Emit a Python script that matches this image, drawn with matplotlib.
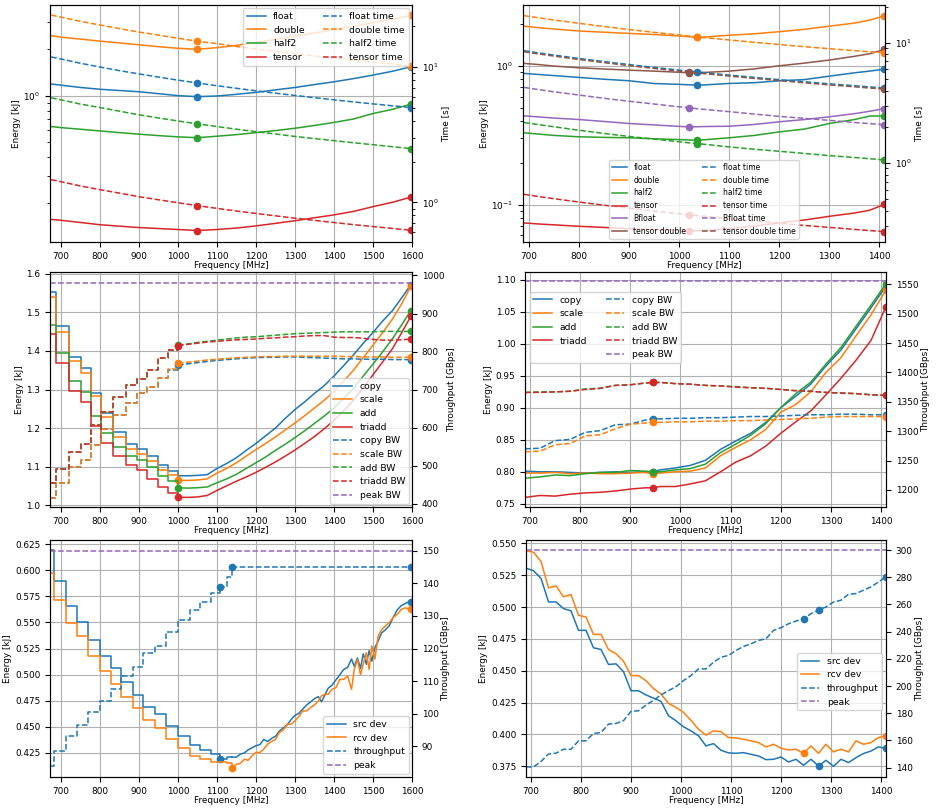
import matplotlib
matplotlib.use('Agg')
import matplotlib.pyplot as plt
from matplotlib.lines import Line2D
from matplotlib.ticker import MultipleLocator

plt.rcParams['font.family'] = ['DejaVu Sans']
plt.rcParams['font.size'] = 6.4
plt.rcParams['lines.linewidth'] = 1.1
plt.rcParams['lines.markersize'] = 4.5
plt.rcParams['legend.fontsize'] = 6.7
plt.rcParams['axes.labelpad'] = 2.0

# ---------------- top-left: energy & time (log) ----------------
TL_FREQ = [675, 700, 750, 800, 850, 900, 950, 1000, 1050, 1100, 1150, 1200,
           1250, 1300, 1350, 1400, 1450, 1500, 1550, 1597]
TL_FLOAT_E = [1.19, 1.17, 1.13, 1.10, 1.08, 1.06, 1.03, 1.00, 0.985, 0.995, 1.02, 1.05,
              1.09, 1.13, 1.18, 1.23, 1.29, 1.36, 1.44, 1.54]
TL_DOUBLE_E = [2.45, 2.40, 2.33, 2.26, 2.20, 2.14, 2.08, 2.03, 2.00, 2.05, 2.12, 2.22,
               2.32, 2.43, 2.55, 2.68, 2.82, 2.98, 3.14, 3.32]
TL_HALF2_E = [0.63, 0.62, 0.605, 0.59, 0.575, 0.562, 0.550, 0.540, 0.533, 0.545, 0.558, 0.575,
              0.593, 0.614, 0.640, 0.670, 0.705, 0.765, 0.815, 0.88]
TL_TENSOR_E = [0.157, 0.155, 0.150, 0.145, 0.142, 0.139, 0.137, 0.135, 0.133, 0.135, 0.138, 0.1425,
               0.148, 0.154, 0.161, 0.168, 0.177, 0.190, 0.203, 0.219]
TL_FLOAT_T = [11.8, 11.4, 10.6, 9.95, 9.35, 8.85, 8.38, 7.96, 7.58, 7.24, 6.93, 6.64,
              6.38, 6.14, 5.91, 5.70, 5.50, 5.32, 5.15, 5.00]
TL_DOUBLE_T = [24.0, 23.2, 21.6, 20.3, 19.1, 18.0, 17.1, 16.2, 15.4, 14.8, 14.1, 13.5,
               13.0, 12.5, 12.0, 11.6, 11.2, 10.8, 10.5, 10.1]
TL_HALF2_T = [5.90, 5.70, 5.30, 5.00, 4.70, 4.42, 4.19, 3.98, 3.79, 3.62, 3.46, 3.32,
              3.19, 3.06, 2.95, 2.85, 2.75, 2.66, 2.57, 2.49]
TL_TENSOR_T = [1.47, 1.42, 1.32, 1.24, 1.17, 1.10, 1.045, 0.993, 0.945, 0.903, 0.863, 0.828,
               0.795, 0.764, 0.736, 0.710, 0.685, 0.663, 0.642, 0.622]
TL_MARK = [1050, 1597]

# ---------------- top-right ----------------
TR_FREQ = [690, 720, 750, 800, 850, 900, 950, 1000, 1020, 1035, 1050, 1100, 1150,
           1200, 1250, 1300, 1350, 1380, 1410]
TR_FLOAT_E = [0.881, 0.865, 0.850, 0.824, 0.800, 0.780, 0.745, 0.735, 0.729, 0.726, 0.728, 0.746, 0.755,
              0.780, 0.795, 0.842, 0.890, 0.915, 0.946]
TR_DOUBLE_E = [1.93, 1.88, 1.84, 1.78, 1.745, 1.71, 1.68, 1.64, 1.62, 1.60, 1.61, 1.66, 1.70,
               1.76, 1.83, 1.93, 2.03, 2.13, 2.29]
TR_HALF2_E = [0.329, 0.322, 0.315, 0.308, 0.305, 0.303, 0.298, 0.294, 0.292, 0.291, 0.293, 0.303, 0.315,
              0.334, 0.350, 0.384, 0.410, 0.434, 0.436]
TR_TENSOR_E = [0.0738, 0.0725, 0.0715, 0.0698, 0.0685, 0.0671, 0.0660, 0.0652, 0.0646, 0.0648, 0.0650,
               0.0671, 0.0700, 0.0738, 0.0775, 0.0824, 0.0870, 0.0910, 0.1005]
TR_BFLOAT_E = [0.436, 0.428, 0.420, 0.410, 0.397, 0.384, 0.375, 0.366, 0.363, 0.364, 0.365, 0.367, 0.378,
               0.395, 0.410, 0.429, 0.452, 0.470, 0.492]
TR_TDOUBLE_E = [1.04, 1.02, 0.995, 0.967, 0.948, 0.930, 0.915, 0.898, 0.890, 0.892, 0.895, 0.915, 0.950,
                1.00, 1.045, 1.10, 1.17, 1.22, 1.31]
TR_FLOAT_T = [8.58, 8.22, 7.89, 7.40, 6.97, 6.58, 6.23, 5.92, 5.80, 5.72, 5.64, 5.38, 5.15,
              4.93, 4.74, 4.55, 4.39, 4.29, 4.20]
TR_DOUBLE_T = [16.8, 16.1, 15.45, 14.5, 13.64, 12.88, 12.2, 11.59, 11.36, 11.2, 11.04, 10.54, 10.08,
               9.66, 9.27, 8.92, 8.59, 8.40, 8.28]
TR_HALF2_T = [2.17, 2.08, 2.00, 1.87, 1.76, 1.66, 1.58, 1.50, 1.47, 1.45, 1.43, 1.36, 1.30,
              1.25, 1.20, 1.15, 1.11, 1.085, 1.06]
TR_TENSOR_T = [0.548, 0.525, 0.504, 0.473, 0.445, 0.420, 0.398, 0.378, 0.371, 0.365, 0.360, 0.344, 0.329,
               0.315, 0.302, 0.291, 0.280, 0.274, 0.268]
TR_BFLOAT_T = [4.25, 4.07, 3.91, 3.67, 3.45, 3.26, 3.09, 2.93, 2.875, 2.83, 2.79, 2.67, 2.55,
               2.44, 2.35, 2.26, 2.17, 2.125, 2.08]
TR_TDOUBLE_T = [8.41, 8.06, 7.74, 7.25, 6.83, 6.45, 6.11, 5.80, 5.69, 5.61, 5.53, 5.28, 5.05,
                4.84, 4.64, 4.46, 4.30, 4.20, 4.12]
TR_MARK_A = [1035, 1410]
TR_MARK_B = [1020, 1410]

# ---------------- middle-left: STREAM ----------------
ML_FREQ = [672, 688, 720, 752, 776, 804, 834, 866, 895, 920, 950, 975,
           1000, 1025, 1050, 1075, 1100, 1125, 1150, 1175, 1200, 1225, 1250, 1275,
           1300, 1325, 1350, 1375, 1400, 1425, 1450, 1475, 1500, 1525, 1550, 1575, 1597]
ML_COPY_E = [1.554, 1.464, 1.385, 1.355, 1.292, 1.238, 1.190, 1.158, 1.145, 1.127, 1.103, 1.088,
             1.076, 1.076, 1.077, 1.079, 1.095, 1.108, 1.123, 1.142, 1.160, 1.180, 1.200, 1.225,
             1.248, 1.268, 1.290, 1.310, 1.335, 1.362, 1.390, 1.420, 1.448, 1.478, 1.505, 1.540, 1.572]
ML_SCALE_E = [1.540, 1.449, 1.374, 1.344, 1.282, 1.229, 1.178, 1.145, 1.132, 1.114, 1.090, 1.077,
              1.064, 1.064, 1.065, 1.068, 1.083, 1.095, 1.110, 1.127, 1.144, 1.160, 1.177, 1.195,
              1.213, 1.232, 1.252, 1.272, 1.295, 1.322, 1.350, 1.383, 1.415, 1.448, 1.483, 1.525, 1.568]
ML_ADD_E = [1.468, 1.396, 1.322, 1.293, 1.232, 1.188, 1.152, 1.128, 1.118, 1.100, 1.075, 1.062,
            1.045, 1.044, 1.045, 1.047, 1.058, 1.068, 1.080, 1.095, 1.110, 1.125, 1.142, 1.158,
            1.175, 1.193, 1.212, 1.231, 1.252, 1.277, 1.303, 1.335, 1.366, 1.398, 1.432, 1.470, 1.505]
ML_TRIADD_E = [1.444, 1.369, 1.297, 1.267, 1.205, 1.162, 1.128, 1.103, 1.090, 1.068, 1.047, 1.032,
               1.020, 1.020, 1.021, 1.025, 1.038, 1.050, 1.062, 1.073, 1.085, 1.098, 1.112, 1.127,
               1.143, 1.160, 1.178, 1.198, 1.220, 1.245, 1.272, 1.305, 1.338, 1.372, 1.406, 1.450, 1.490]
ML_COPY_BW = [416, 456, 497, 516, 556, 596, 634, 664, 690, 706, 730, 752,
              764, 768, 771, 774, 777, 779, 781, 783, 784, 785, 785, 786,
              786, 785, 784, 783, 782, 781, 781, 780, 780, 780, 779, 779, 779]
ML_SCALE_BW = [416, 456, 497, 516, 556, 596, 634, 664, 690, 706, 732, 755,
               769, 772, 775, 778, 780, 782, 784, 785, 786, 787, 787, 788,
               788, 788, 788, 788, 788, 787, 787, 786, 786, 786, 785, 785, 785]
ML_ADD_BW = [456, 492, 536, 558, 606, 642, 682, 712, 729, 752, 783, 804,
             817, 820, 824, 827, 830, 833, 836, 838, 839, 841, 843, 845,
             847, 848, 849, 850, 851, 852, 852, 852, 852, 853, 853, 853, 853]
ML_TRIADD_BW = [456, 492, 536, 558, 606, 642, 682, 712, 729, 752, 783, 804,
                816, 819, 822, 825, 827, 829, 831, 832, 833, 835, 836, 838,
                839, 841, 842, 842, 838, 837, 837, 835, 832, 830, 830, 831, 833]
ML_PEAK_BW = 981
ML_MARK = [1000, 1597]
ML_STEP_END = 1000

# ---------------- middle-right: STREAM ----------------
MR_FREQ = [690, 720, 750, 780, 810, 840, 870, 900, 930, 945, 960, 990, 1020, 1050,
           1080, 1110, 1140, 1170, 1200, 1230, 1260, 1290, 1320, 1350, 1380, 1410]
MR_COPY_E = [0.801, 0.800, 0.800, 0.799, 0.798, 0.799, 0.800, 0.799, 0.800, 0.800, 0.803, 0.806, 0.810,
             0.818, 0.835, 0.848, 0.860, 0.877, 0.900, 0.918, 0.937, 0.965, 0.990, 1.023, 1.056, 1.090]
MR_SCALE_E = [0.798, 0.798, 0.799, 0.797, 0.798, 0.797, 0.797, 0.798, 0.799, 0.796, 0.798, 0.800, 0.801,
              0.806, 0.825, 0.838, 0.850, 0.866, 0.893, 0.905, 0.925, 0.955, 0.978, 1.012, 1.045, 1.084]
MR_ADD_E = [0.790, 0.792, 0.795, 0.794, 0.797, 0.799, 0.799, 0.802, 0.801, 0.800, 0.800, 0.803, 0.805,
            0.812, 0.830, 0.843, 0.857, 0.875, 0.900, 0.922, 0.940, 0.968, 0.994, 1.027, 1.060, 1.094]
MR_TRIADD_E = [0.760, 0.763, 0.762, 0.765, 0.767, 0.768, 0.770, 0.773, 0.775, 0.775, 0.777, 0.777, 0.781,
               0.786, 0.800, 0.815, 0.825, 0.840, 0.860, 0.878, 0.895, 0.920, 0.946, 0.974, 1.005, 1.058]
MR_COPY_BW = [1270, 1271, 1284, 1286, 1298, 1301, 1311, 1312, 1319, 1321, 1321, 1322, 1322,
              1323, 1323, 1324, 1325, 1325, 1326, 1327, 1328, 1328, 1329, 1329, 1328, 1328]
MR_SCALE_BW = [1265, 1266, 1277, 1279, 1292, 1294, 1304, 1312, 1314, 1315, 1315, 1316, 1316,
               1317, 1317, 1318, 1318, 1319, 1320, 1321, 1322, 1324, 1325, 1325, 1325, 1325]
MR_ADD_BW = [1366, 1367, 1367, 1368, 1372, 1373, 1378, 1379, 1382, 1383, 1383, 1381, 1380,
             1378, 1377, 1376, 1374, 1373, 1371, 1369, 1368, 1366, 1365, 1364, 1362, 1361]
MR_TRIADD_BW = [1366, 1366, 1367, 1368, 1371, 1373, 1378, 1379, 1382, 1383, 1383, 1381, 1380,
                1378, 1377, 1375, 1374, 1373, 1371, 1369, 1368, 1366, 1365, 1364, 1362, 1361]
MR_PEAK_BW = 1555
MR_MARK = [945, 1410]

# ---------------- bottom-left: transfer ----------------
BL_FREQ = [672, 682, 712, 740, 770, 800, 828, 854, 884, 910, 940, 970, 1000, 1030, 1056, 1084,
           1108, 1125, 1138,
           1150, 1160, 1170, 1180, 1190, 1200, 1210, 1220, 1230, 1240, 1250, 1260, 1270, 1280,
           1290, 1300, 1310, 1320, 1330, 1340, 1350, 1360,
           1368, 1376, 1385, 1395, 1405, 1415, 1425, 1435, 1445, 1452, 1460, 1468, 1475, 1483,
           1490, 1497, 1505, 1513, 1522, 1532, 1542, 1552, 1562, 1572, 1582, 1592, 1597]
BL_SRC_E = [0.619, 0.5895, 0.5656, 0.5506, 0.533, 0.518, 0.506, 0.493, 0.481, 0.469, 0.462, 0.451,
            0.441, 0.433, 0.428, 0.424, 0.4197, 0.4215, 0.421,
            0.421, 0.424, 0.425, 0.428, 0.430, 0.432, 0.433, 0.438, 0.436, 0.439, 0.441, 0.446,
            0.449, 0.452, 0.457, 0.461, 0.463, 0.467, 0.471, 0.474, 0.477, 0.479,
            0.474, 0.480, 0.487, 0.490, 0.495, 0.500, 0.505, 0.507, 0.515, 0.508, 0.516, 0.506,
            0.520, 0.510, 0.523, 0.513, 0.526, 0.532, 0.540, 0.543, 0.547, 0.555, 0.562, 0.566,
            0.568, 0.570, 0.570]
BL_RCV_E = [0.597, 0.5713, 0.5497, 0.537, 0.518, 0.5035, 0.491, 0.479, 0.4685, 0.457, 0.449, 0.438,
            0.430, 0.4222, 0.419, 0.4166, 0.4160, 0.4150, 0.4105,
            0.4143, 0.4150, 0.419, 0.418, 0.4223, 0.4255, 0.4255, 0.4287, 0.4334, 0.436, 0.438,
            0.4446, 0.447, 0.4525, 0.4525, 0.4557, 0.460, 0.4653, 0.4653, 0.4685, 0.471, 0.4748,
            0.4796, 0.4812, 0.4812, 0.486, 0.4876, 0.4955, 0.4955, 0.4987, 0.486, 0.505, 0.5146,
            0.500, 0.510, 0.521, 0.505, 0.5274, 0.515, 0.537, 0.543, 0.5465, 0.550, 0.555, 0.5576,
            0.5624, 0.564, 0.563, 0.563]
BL_STEP_END = 1138
BL_THR_FREQ = [672, 682, 712, 740, 770, 800, 828, 854, 884, 910, 940, 970, 1000, 1030, 1056, 1084,
               1108, 1125, 1138, 1597]
BL_THR = [83.9, 88.6, 93.1, 96.5, 100.6, 104.0, 107.7, 111.5, 114.4, 118.5, 120.7, 125.1,
          128.7, 131.8, 134.3, 136.9, 138.9, 142.0, 144.9, 144.9]
BL_PEAK = 150
BL_SRC_MARK = [1108, 1597]
BL_RCV_MARK = [1138, 1597]
BL_THR_MARK = [1108, 1138, 1597]

# ---------------- bottom-right: transfer ----------------
BR_FREQ = [690, 705, 720, 735, 750, 765, 780, 795, 810, 825, 840, 855, 870, 885, 900, 915,
           930, 945, 960, 975, 990, 1005, 1020, 1035, 1050, 1065, 1080, 1095, 1110, 1125, 1140,
           1155, 1170, 1185, 1200, 1215, 1230, 1245, 1260, 1275, 1290, 1305, 1320, 1335, 1350,
           1365, 1380, 1395, 1410]
BR_SRC_E = [0.5305, 0.5285, 0.5225, 0.5040, 0.5040, 0.4988, 0.4970, 0.4817, 0.4817, 0.4680,
            0.4667, 0.4549, 0.4554, 0.4493, 0.4343, 0.4343, 0.4310, 0.4285, 0.4260, 0.4147,
            0.4107, 0.4060, 0.4028, 0.3989, 0.3910, 0.3928, 0.3876, 0.3855, 0.3852, 0.3857,
            0.3844, 0.3831, 0.3802, 0.3805, 0.3823, 0.3784, 0.3805, 0.3758, 0.3805, 0.3752,
            0.3797, 0.3750, 0.3805, 0.3779, 0.3818, 0.3850, 0.3870, 0.3902, 0.3890]
BR_RCV_E = [0.5442, 0.5430, 0.5358, 0.5150, 0.5166, 0.5080, 0.5098, 0.4935, 0.4922, 0.4785,
            0.4785, 0.4667, 0.4633, 0.4575, 0.4462, 0.4462, 0.4422, 0.4360, 0.4317, 0.4244,
            0.4212, 0.4173, 0.4110, 0.4041, 0.3994, 0.4028, 0.4022, 0.3976, 0.3972, 0.3962,
            0.3950, 0.3936, 0.3902, 0.3923, 0.3892, 0.3878, 0.3884, 0.3852, 0.3910, 0.3852,
            0.3923, 0.3863, 0.3884, 0.3863, 0.3950, 0.3923, 0.3936, 0.3976, 0.3989]
BR_THR = [140.5, 140.5, 144.5, 150.0, 150.6, 153.5, 153.5, 159.7, 159.7, 165.1, 165.8, 172.0,
          172.5, 174.5, 181.4, 181.8, 186.0, 189.5, 193.5, 196.6, 199.6, 204.0, 207.7, 212.6,
          212.6, 217.5, 221.2, 222.5, 226.2, 229.1, 231.1, 233.5, 234.8, 240.9, 242.9, 245.8,
          247.8, 249.5, 253.2, 255.7, 258.2, 261.8, 263.1, 267.5, 268.0, 270.5, 272.9, 276.6, 280.3]
BR_PEAK = 300
BR_SRC_MARK = [1275, 1410]
BR_RCV_MARK = [1245, 1410]
BR_THR_MARK = [1245, 1275, 1410]

# ============================================================
W, H = 936, 808
fig = plt.figure(figsize=(W / 100, H / 100), dpi=100)


def add_ax(x0, y0, x1, y1):
    return fig.add_axes([x0 / W, 1 - y1 / H, (x1 - x0) / W, (y1 - y0) / H])


def mark(ax, xs, ys, at, color):
    px = [xs[xs.index(f)] for f in at]
    py = [ys[xs.index(f)] for f in at]
    ax.plot(px, py, 'o', color=color)


def stair_then_line(ax, xs, ys, split, ls='-', **kw):
    i = xs.index(split)
    h, = ax.plot(xs[:i + 1], ys[:i + 1], ls, drawstyle='steps-post', **kw)
    kw.pop('label', None)
    ax.plot(xs[i:], ys[i:], ls, **kw)
    return h


def finish(ax, ax2, rlabel):
    ax.grid(True)
    ax.xaxis.set_major_locator(MultipleLocator(100))
    ax.set_xlabel('Frequency [MHz]', labelpad=0.5)
    ax.set_ylabel('Energy [kJ]')
    ax2.set_ylabel(rlabel)


# ---------- top-left ----------
ax = add_ax(50, 5, 412, 242)
ax2 = ax.twinx()
ax.set_yscale('log')
ax2.set_yscale('log')
hs = []
for c, name, e in [('C0', 'float', TL_FLOAT_E), ('C1', 'double', TL_DOUBLE_E),
                   ('C2', 'half2', TL_HALF2_E), ('C3', 'tensor', TL_TENSOR_E)]:
    h, = ax.plot(TL_FREQ, e, color=c, label=name)
    mark(ax, TL_FREQ, e, TL_MARK, c)
    hs.append(h)
ht = []
for c, name, t in [('C0', 'float time', TL_FLOAT_T), ('C1', 'double time', TL_DOUBLE_T),
                   ('C2', 'half2 time', TL_HALF2_T), ('C3', 'tensor time', TL_TENSOR_T)]:
    h, = ax2.plot(TL_FREQ, t, '--', color=c, label=name)
    mark(ax2, TL_FREQ, t, TL_MARK, c)
    ht.append(h)
ax.set_xlim(672, 1600)
ax.set_ylim(0.112, 3.88)
ax2.set_ylim(0.51, 28.5)
finish(ax, ax2, 'Time [s]')
ax2.legend(hs + ht, [h.get_label() for h in hs + ht], ncol=2, loc='upper right',
           borderaxespad=0.35)

# ---------- top-right ----------
ax = add_ax(523, 5, 885, 242)
ax2 = ax.twinx()
ax.set_yscale('log')
ax2.set_yscale('log')
hs, ht = [], []
for c, name, e, t, mk in [('C0', 'float', TR_FLOAT_E, TR_FLOAT_T, TR_MARK_A),
                          ('C1', 'double', TR_DOUBLE_E, TR_DOUBLE_T, TR_MARK_A),
                          ('C2', 'half2', TR_HALF2_E, TR_HALF2_T, TR_MARK_A),
                          ('C3', 'tensor', TR_TENSOR_E, TR_TENSOR_T, TR_MARK_B),
                          ('C4', 'Bfloat', TR_BFLOAT_E, TR_BFLOAT_T, TR_MARK_B),
                          ('C5', 'tensor double', TR_TDOUBLE_E, TR_TDOUBLE_T, TR_MARK_B)]:
    h, = ax.plot(TR_FREQ, e, color=c, label=name)
    mark(ax, TR_FREQ, e, mk, c)
    hs.append(h)
    h2, = ax2.plot(TR_FREQ, t, '--', color=c, label=name + ' time')
    mark(ax2, TR_FREQ, t, mk, c)
    ht.append(h2)
ax.set_xlim(688, 1411)
ax.set_ylim(0.0538, 2.74)
ax2.set_ylim(0.22, 20.6)
finish(ax, ax2, 'Time [s]')
ax2.legend(hs + ht, [h.get_label() for h in hs + ht], ncol=2, loc='lower center',
           fontsize=5.5, borderaxespad=0.4)

# ---------- middle-left ----------
ax = add_ax(50, 272, 412, 507)
ax2 = ax.twinx()
hs, hb = [], []
for c, name, e, emk in [('C0', 'copy', ML_COPY_E, [1597]),
                        ('C1', 'scale', ML_SCALE_E, ML_MARK),
                        ('C2', 'add', ML_ADD_E, ML_MARK),
                        ('C3', 'triadd', ML_TRIADD_E, ML_MARK)]:
    h = stair_then_line(ax, ML_FREQ, e, ML_STEP_END, color=c, label=name)
    mark(ax, ML_FREQ, e, emk, c)
    hs.append(h)
for c, name, b in [('C0', 'copy BW', ML_COPY_BW), ('C1', 'scale BW', ML_SCALE_BW),
                   ('C2', 'add BW', ML_ADD_BW), ('C3', 'triadd BW', ML_TRIADD_BW)]:
    h = stair_then_line(ax2, ML_FREQ, b, ML_STEP_END, ls='--', color=c, label=name)
    mark(ax2, ML_FREQ, b, ML_MARK, c)
    hb.append(h)
hp = ax2.axhline(ML_PEAK_BW, color='C4', ls='--', label='peak BW')
ax.set_xlim(672, 1600)
ax.set_ylim(0.995, 1.605)
ax2.set_ylim(392, 1009)
ax.yaxis.set_major_locator(MultipleLocator(0.1))
ax2.yaxis.set_major_locator(MultipleLocator(100))
finish(ax, ax2, 'Throughput [GBps]')
allh = hs + hb + [hp]
ax2.legend(allh, [h.get_label() for h in allh], loc='lower right', borderaxespad=0.35)

# ---------- middle-right ----------
ax = add_ax(525, 272, 886, 507)
ax2 = ax.twinx()
hs, hb = [], []
for c, name, e in [('C0', 'copy', MR_COPY_E), ('C1', 'scale', MR_SCALE_E),
                   ('C2', 'add', MR_ADD_E), ('C3', 'triadd', MR_TRIADD_E)]:
    h, = ax.plot(MR_FREQ, e, color=c, label=name)
    mark(ax, MR_FREQ, e, MR_MARK, c)
    hs.append(h)
for c, name, b in [('C0', 'copy BW', MR_COPY_BW), ('C1', 'scale BW', MR_SCALE_BW),
                   ('C2', 'add BW', MR_ADD_BW), ('C3', 'triadd BW', MR_TRIADD_BW)]:
    h, = ax2.plot(MR_FREQ, b, '--', color=c, label=name)
    mark(ax2, MR_FREQ, b, MR_MARK, c)
    hb.append(h)
hp = ax2.axhline(MR_PEAK_BW, color='C4', ls='--', label='peak BW')
ax.set_xlim(690, 1410)
ax.set_ylim(0.745, 1.112)
ax2.set_ylim(1171, 1571)
ax.yaxis.set_major_locator(MultipleLocator(0.05))
ax2.yaxis.set_major_locator(MultipleLocator(50))
finish(ax, ax2, 'Throughput [GBps]')
blank = Line2D([], [], linestyle='none')
allh = hs + [blank] + hb + [hp]
labs = [h.get_label() for h in hs] + [''] + [h.get_label() for h in hb + [hp]]
ax2.legend(allh, labs, ncol=2, loc='upper left', bbox_to_anchor=(0.0, 0.935))

# ---------- bottom-left ----------
ax = add_ax(50, 540, 412, 777)
ax2 = ax.twinx()
h1 = stair_then_line(ax, BL_FREQ, BL_SRC_E, BL_STEP_END, color='C0', label='src dev')
mark(ax, BL_FREQ, BL_SRC_E, BL_SRC_MARK, 'C0')
h2 = stair_then_line(ax, BL_FREQ, BL_RCV_E, BL_STEP_END, color='C1', label='rcv dev')
mark(ax, BL_FREQ, BL_RCV_E, BL_RCV_MARK, 'C1')
h3, = ax2.plot(BL_THR_FREQ, BL_THR, '--', color='C0', label='throughput', drawstyle='steps-post')
mark(ax2, BL_THR_FREQ, BL_THR, BL_THR_MARK, 'C0')
h4 = ax2.axhline(BL_PEAK, color='C4', ls='--', label='peak')
ax.set_xlim(672, 1600)
ax.set_ylim(0.402, 0.629)
ax2.set_ylim(80.6, 153.3)
ax.yaxis.set_major_locator(MultipleLocator(0.025))
ax2.yaxis.set_major_locator(MultipleLocator(10))
finish(ax, ax2, 'Throughput [GBps]')
ax2.legend([h1, h2, h3, h4], ['src dev', 'rcv dev', 'throughput', 'peak'], loc='lower right',
           borderaxespad=0.35)

# ---------- bottom-right ----------
ax = add_ax(526, 540, 886, 777)
ax2 = ax.twinx()
h1, = ax.plot(BR_FREQ, BR_SRC_E, color='C0', label='src dev')
mark(ax, BR_FREQ, BR_SRC_E, BR_SRC_MARK, 'C0')
h2, = ax.plot(BR_FREQ, BR_RCV_E, color='C1', label='rcv dev')
mark(ax, BR_FREQ, BR_RCV_E, BR_RCV_MARK, 'C1')
h3, = ax2.plot(BR_FREQ, BR_THR, '--', color='C0', label='throughput')
mark(ax2, BR_FREQ, BR_THR, BR_THR_MARK, 'C0')
h4 = ax2.axhline(BR_PEAK, color='C4', ls='--', label='peak')
ax.set_xlim(690, 1410)
ax.set_ylim(0.3666, 0.5526)
ax2.set_ylim(133.1, 307.4)
ax.yaxis.set_major_locator(MultipleLocator(0.025))
ax2.yaxis.set_major_locator(MultipleLocator(20))
finish(ax, ax2, 'Throughput [GBps]')
ax2.legend([h1, h2, h3, h4], ['src dev', 'rcv dev', 'throughput', 'peak'],
           loc='upper right', bbox_to_anchor=(0.99, 0.523), borderaxespad=0)

fig.savefig('out.png', dpi=100)
